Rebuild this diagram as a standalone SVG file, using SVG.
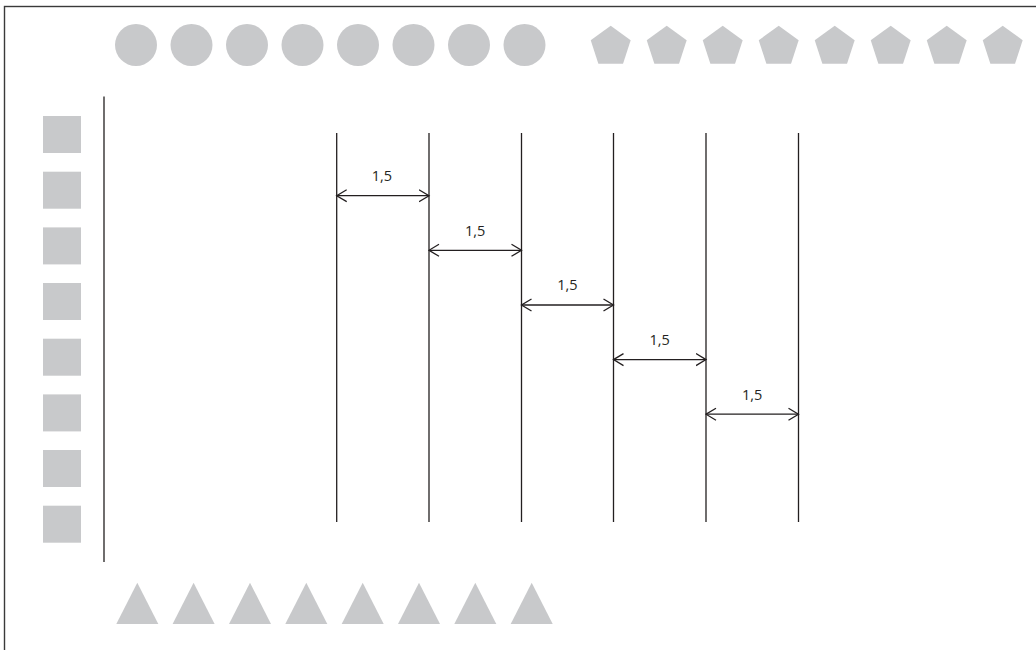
<svg xmlns="http://www.w3.org/2000/svg" width="1036" height="650" viewBox="0 0 1036 650">
<style>
.sh{fill:#c8c9cb;stroke:none}
.ln{stroke:#231f20;stroke-width:1.3;fill:none}
.lbl{font-family:"Open Sans","Liberation Sans",sans-serif;font-size:14.5px;fill:#231f20;text-anchor:middle}
</style>
<defs>
<marker id="arr" markerUnits="userSpaceOnUse" markerWidth="12" markerHeight="14" refX="10.5" refY="7" orient="auto-start-reverse">
<path d="M0.5,1 L10.5,7 L0.5,13" fill="none" stroke="#231f20" stroke-width="1.3"/>
</marker>
<circle id="c" r="21" class="sh"/>
<polygon id="p" points="0,-21 19.97,-6.49 12.34,16.99 -12.34,16.99 -19.97,-6.49" class="sh"/>
<rect id="s" width="38" height="37" class="sh"/>
<polygon id="t" points="0,0 21,41.3 -21,41.3" class="sh"/>
</defs>
<rect x="4.5" y="6.5" width="1100" height="700" fill="#fff" stroke="#3a3a3a" stroke-width="1.4"/>
<g id="circles">
<use href="#c" x="136" y="45"/><use href="#c" x="191.5" y="45"/><use href="#c" x="247" y="45"/><use href="#c" x="302.5" y="45"/>
<use href="#c" x="358" y="45"/><use href="#c" x="413.5" y="45"/><use href="#c" x="469" y="45"/><use href="#c" x="524.5" y="45"/>
</g>
<g id="pentagons">
<use href="#p" x="610.7" y="46.7"/><use href="#p" x="666.7" y="46.7"/><use href="#p" x="722.7" y="46.7"/><use href="#p" x="778.7" y="46.7"/>
<use href="#p" x="834.7" y="46.7"/><use href="#p" x="890.7" y="46.7"/><use href="#p" x="946.7" y="46.7"/><use href="#p" x="1002.7" y="46.7"/>
</g>
<g id="squares">
<use href="#s" x="43" y="116"/><use href="#s" x="43" y="171.7"/><use href="#s" x="43" y="227.4"/><use href="#s" x="43" y="283"/>
<use href="#s" x="43" y="338.7"/><use href="#s" x="43" y="394.4"/><use href="#s" x="43" y="450"/><use href="#s" x="43" y="505.7"/>
</g>
<g id="triangles">
<use href="#t" x="137.3" y="582.7"/><use href="#t" x="193.6" y="582.7"/><use href="#t" x="250" y="582.7"/><use href="#t" x="306.3" y="582.7"/>
<use href="#t" x="362.7" y="582.7"/><use href="#t" x="419" y="582.7"/><use href="#t" x="475.3" y="582.7"/><use href="#t" x="531.7" y="582.7"/>
</g>
<g id="axis">
<line class="ln" x1="104" y1="96.5" x2="104" y2="562"/>
</g>
<g id="guides">
<line class="ln" x1="336.7" y1="133" x2="336.7" y2="522"/>
<line class="ln" x1="429" y1="133" x2="429" y2="522"/>
<line class="ln" x1="521.5" y1="133" x2="521.5" y2="522"/>
<line class="ln" x1="613.5" y1="133" x2="613.5" y2="522"/>
<line class="ln" x1="706" y1="133" x2="706" y2="522"/>
<line class="ln" x1="798.5" y1="133" x2="798.5" y2="522"/>
</g>
<g id="connectors">
<line class="ln" x1="336.7" y1="195.7" x2="429" y2="195.7" marker-start="url(#arr)" marker-end="url(#arr)"/>
<line class="ln" x1="429" y1="250.3" x2="521.5" y2="250.3" marker-start="url(#arr)" marker-end="url(#arr)"/>
<line class="ln" x1="521.5" y1="305" x2="613.5" y2="305" marker-start="url(#arr)" marker-end="url(#arr)"/>
<line class="ln" x1="613.5" y1="359.6" x2="706" y2="359.6" marker-start="url(#arr)" marker-end="url(#arr)"/>
<line class="ln" x1="706" y1="414.2" x2="798.5" y2="414.2" marker-start="url(#arr)" marker-end="url(#arr)"/>
</g>
<g id="labels">
<text class="lbl" x="382" y="181">1,5</text>
<text class="lbl" x="475.2" y="235.6">1,5</text>
<text class="lbl" x="567.5" y="290.3">1,5</text>
<text class="lbl" x="659.7" y="344.9">1,5</text>
<text class="lbl" x="752.2" y="399.5">1,5</text>
</g>
</svg>
